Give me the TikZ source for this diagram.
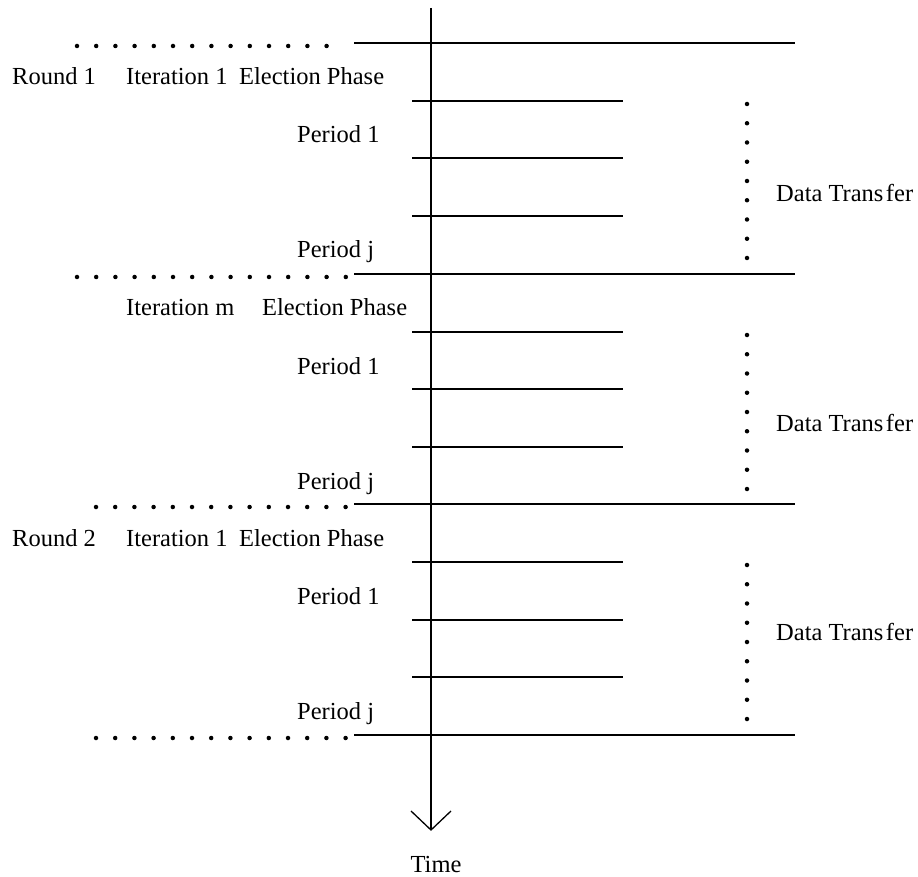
\documentclass[tikz,border=0pt]{standalone}
\usepackage{fontspec}
\setmainfont{Liberation Serif}
\begin{document}
\begin{tikzpicture}[x=1pt,y=-1pt,
  longline/.style={line width=1.7pt},
  shortline/.style={line width=1.7pt},
  axisline/.style={line width=1.3pt},
  lbl/.style={anchor=base west, inner sep=0pt, font=\fontsize{24.5}{29}\selectfont},
  dotmark/.style={circle, fill=black, inner sep=0pt, minimum size=4.5pt}]
\useasboundingbox (0,0) rectangle (918,877);
\fill[white] (0,0) rectangle (918,877);

% time axis
\coordinate (axtop) at (431,8);
\coordinate (axtip) at (431,830);
\coordinate (arrL) at (411,811);
\coordinate (arrR) at (451,811);
\draw[axisline] (axtop) -- (axtip);
\draw[axisline] (arrL) -- (axtip) -- (arrR);
\node[lbl, anchor=base] (time) at (436,872) {Time};

% sections
\foreach \k/\yo/\sa/\sb/\sc/\dt in {1/43/101/158/216/193, 2/274/332/389/447/423, 3/504/562/620/677/632}{
  \coordinate (L\k a) at (354,\yo);
  \coordinate (L\k b) at (795,\yo);
  \draw[longline] (L\k a) -- (L\k b);
  \foreach \j/\d in {1/\sa, 2/\sb, 3/\sc}{
    \coordinate (S\k\j a) at (412,\d);
    \coordinate (S\k\j b) at (623,\d);
    \draw[shortline] (S\k\j a) -- (S\k\j b);
  }
  \node[lbl] (pone\k) at (297,\yo+100) {Period 1};
  \node[lbl] (pj\k) at (297,\yo+215) {Period j};
  \foreach \i in {0,...,8}{
    \node[dotmark] (dd\k\i) at (747,\yo+61+19.25*\i) {};
  }
  \node[lbl, anchor=west] (dt\k) at (776,\dt) {Data Trans\kern2.5pt fer};
}
\coordinate (L4a) at (354,735);
\coordinate (L4b) at (795,735);
\draw[longline] (L4a) -- (L4b);

% labels
\node[lbl] (round1) at (12,85) {Round 1};
\node[lbl] (iter11) at (126,85) {Iteration 1};
\node[lbl] (elec1) at (239,85) {Election Phase};
\node[lbl] (iterm) at (126,316) {Iteration m};
\node[lbl] (elec2) at (262,316) {Election Phase};
\node[lbl] (round2) at (12,546) {Round 2};
\node[lbl] (iter21) at (126,546) {Iteration 1};
\node[lbl] (elec3) at (239,546) {Election Phase};

% dotted rows
\foreach \i in {0,...,13}{ \node[dotmark] (ra\i) at (77+19.2*\i,46) {}; }
\foreach \i in {0,...,14}{ \node[dotmark] (rb\i) at (77+19.2*\i,277) {}; }
\foreach \i in {0,...,13}{ \node[dotmark] (rc\i) at (96+19.2*\i,507) {}; }
\foreach \i in {0,...,13}{ \node[dotmark] (rd\i) at (96+19.2*\i,738) {}; }
\end{tikzpicture}
\end{document}
